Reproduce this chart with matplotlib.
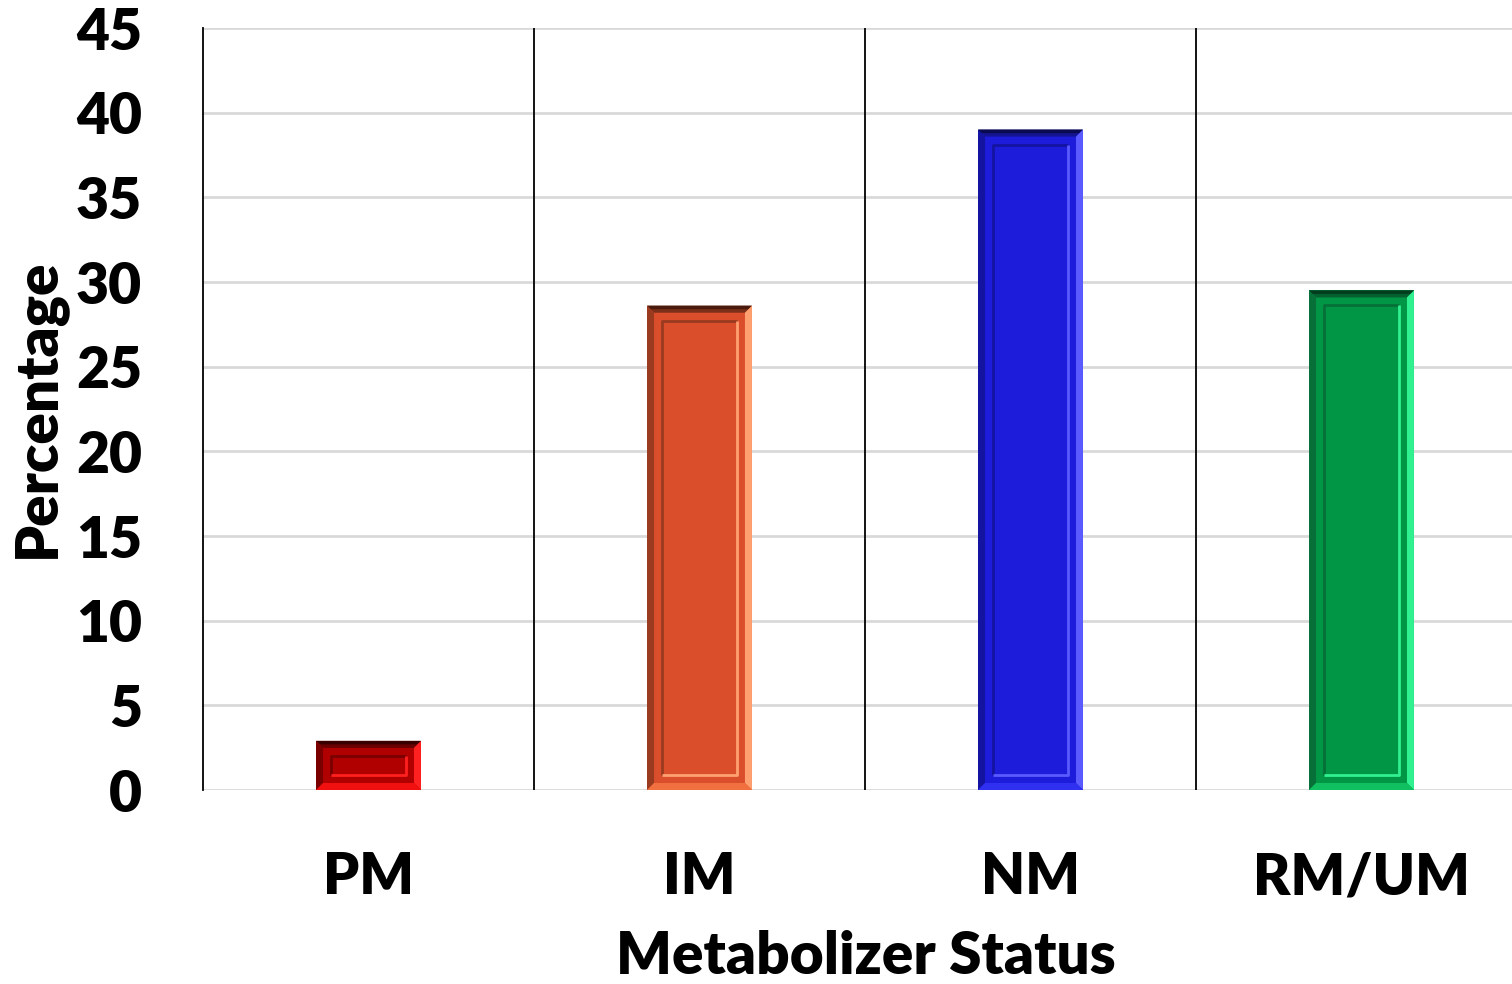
import matplotlib
matplotlib.use("Agg")
import matplotlib.pyplot as plt
from matplotlib.patches import Polygon, Rectangle
import numpy as np

categories = ["PM", "IM", "NM", "RM/UM"]
values = [2.9, 28.6, 39.0, 29.5]
yticks = [0, 5, 10, 15, 20, 25, 30, 35, 40, 45]
face = ["#B00000", "#DA4E2C", "#1C1CDA", "#009645"]
top_c = ["#3A0000", "#4A1A0C", "#0A0A50", "#033D1F"]
top_c2 = ["#6A0000", "#7A3018", "#141490", "#05602F"]
left_c = ["#7A0000", "#9A3A1E", "#1414A0", "#067038"]
right_c = ["#FF2020", "#FFA070", "#5A5AFF", "#30F090"]
bottom_c = ["#F01010", "#F07040", "#3030F0", "#10C060"]

plt.rcParams['font.family'] = ['Lato', 'DejaVu Sans']
W = 'heavy'
fig = plt.figure(figsize=(15.12, 9.84), dpi=100)
ax = fig.add_axes([203/1512, 1-790/984, 1324/1512, (790-28)/984])

n = len(categories)
ax.set_xlim(0, n)
ax.set_ylim(0, 45)
width = 0.317
px_x = 1/331.0
px_y = 45/762.0
bx, by = 7*px_x, 7*px_y
ix, iy = 15*px_x, 15*px_y

for i, v in enumerate(values):
    c = i + 0.5
    x0, x1 = c - width/2, c + width/2
    ax.add_patch(Rectangle((x0, 0), width, v, facecolor=face[i], edgecolor='none', zorder=3))
    ax.add_patch(Polygon([(x0, v), (x1, v), (x1-bx, v-by), (x0+bx, v-by)], closed=True,
                         facecolor=top_c2[i], edgecolor='none', zorder=4))
    ax.add_patch(Polygon([(x0, v), (x1, v), (x1-bx/2, v-by/2), (x0+bx/2, v-by/2)], closed=True,
                         facecolor=top_c[i], edgecolor='none', zorder=4))
    ax.add_patch(Polygon([(x0, 0), (x0, v), (x0+bx, v-by), (x0+bx, by)], closed=True,
                         facecolor=left_c[i], edgecolor='none', zorder=4))
    ax.add_patch(Polygon([(x1, 0), (x1, v), (x1-bx, v-by), (x1-bx, by)], closed=True,
                         facecolor=right_c[i], edgecolor='none', zorder=4))
    ax.add_patch(Polygon([(x0, 0), (x1, 0), (x1-bx, by), (x0+bx, by)], closed=True,
                         facecolor=bottom_c[i], edgecolor='none', zorder=4))
    if v - 2*iy > 0:
        ax.plot([x0+ix, x0+ix, x1-ix], [iy, v-iy, v-iy], color=left_c[i], lw=2, zorder=5,
                solid_capstyle='butt')
        ax.plot([x0+ix, x1-ix, x1-ix], [iy, iy, v-iy], color=right_c[i], lw=2, zorder=5,
                solid_capstyle='butt')

for y in yticks:
    ax.axhline(y, color="#D9D9D9", lw=2, zorder=1)
for k in range(1, n):
    ax.axvline(k, color="black", lw=1.3, zorder=1)

for s in ['top', 'right', 'bottom']:
    ax.spines[s].set_visible(False)
ax.spines['left'].set_color('black')
ax.spines['left'].set_linewidth(1.3)

ax.set_yticks(yticks)
ax.set_yticklabels([str(t) for t in yticks], fontsize=41, fontweight=W)
ax.set_xticks(np.arange(n) + 0.5)
ax.set_xticklabels(categories, fontsize=41, fontweight=W)
ax.tick_params(axis='both', length=0)
ax.tick_params(axis='x', pad=44)
ax.tick_params(axis='y', pad=44)

fig.text(866/1512, 1-957/984, "Metabolizer Status", fontsize=42, fontweight=W,
         ha='center', va='center')
fig.text(38/1512, 1-408/984, "Percentage", fontsize=42, fontweight=W,
         ha='center', va='center', rotation=90)

fig.savefig("out.png", dpi=100)
